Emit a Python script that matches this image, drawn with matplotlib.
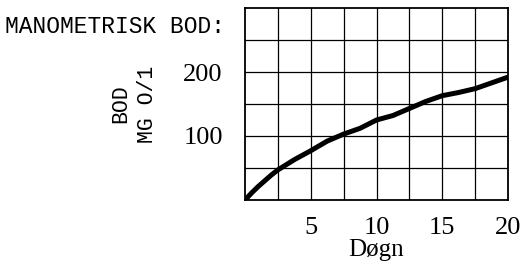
import matplotlib.pyplot as plt

# BOD curve
days = [0, 0.5, 1, 1.5, 2, 2.5, 3.75, 5, 6.25, 7.5, 8.75, 10, 11.25, 12.5,
        13.75, 15, 16.25, 17.5, 18.75, 20]
bod = [0, 11, 21, 30, 39, 47, 63, 77, 92, 103, 112, 125, 132, 143, 154, 163,
       168, 174, 183, 192]

x_ticks = [5, 10, 15, 20]
y_ticks = [100, 200]
x_grid = [2.5 * i for i in range(1, 8)]
y_grid = [50 * i for i in range(1, 6)]

serif = "Liberation Serif"
mono = "Liberation Mono"

fig = plt.figure(figsize=(5.25, 2.67), dpi=100)
ax = fig.add_axes([0.4667, 0.251, 0.501, 0.719])
ax.set_xlim(0, 20)
ax.set_ylim(0, 300)

for x in x_grid:
    ax.axvline(x, color="black", lw=0.9, zorder=1)
for y in y_grid:
    ax.axhline(y, color="black", lw=0.9, zorder=1)

ax.plot(days, bod, color="black", lw=3.6, solid_capstyle="round", zorder=3)

for s in ax.spines.values():
    s.set_linewidth(1.3)

ax.set_xticks(x_ticks)
ax.set_yticks(y_ticks)
ax.tick_params(length=0, labelsize=19, pad=12)
ax.tick_params(axis="y", pad=16)
for lab in ax.get_xticklabels() + ax.get_yticklabels():
    lab.set_family(serif)

ax.set_xlabel("Døgn", fontsize=18, family=serif, labelpad=0)
ax.set_ylabel("BOD\nMG O/1", fontsize=15.5, family=mono, labelpad=18,
              linespacing=1.4)

fig.text(0.01, 0.9, "MANOMETRISK BOD:", fontsize=16.5, family=mono,
         va="center", ha="left")

fig.savefig("out.png", dpi=100)
